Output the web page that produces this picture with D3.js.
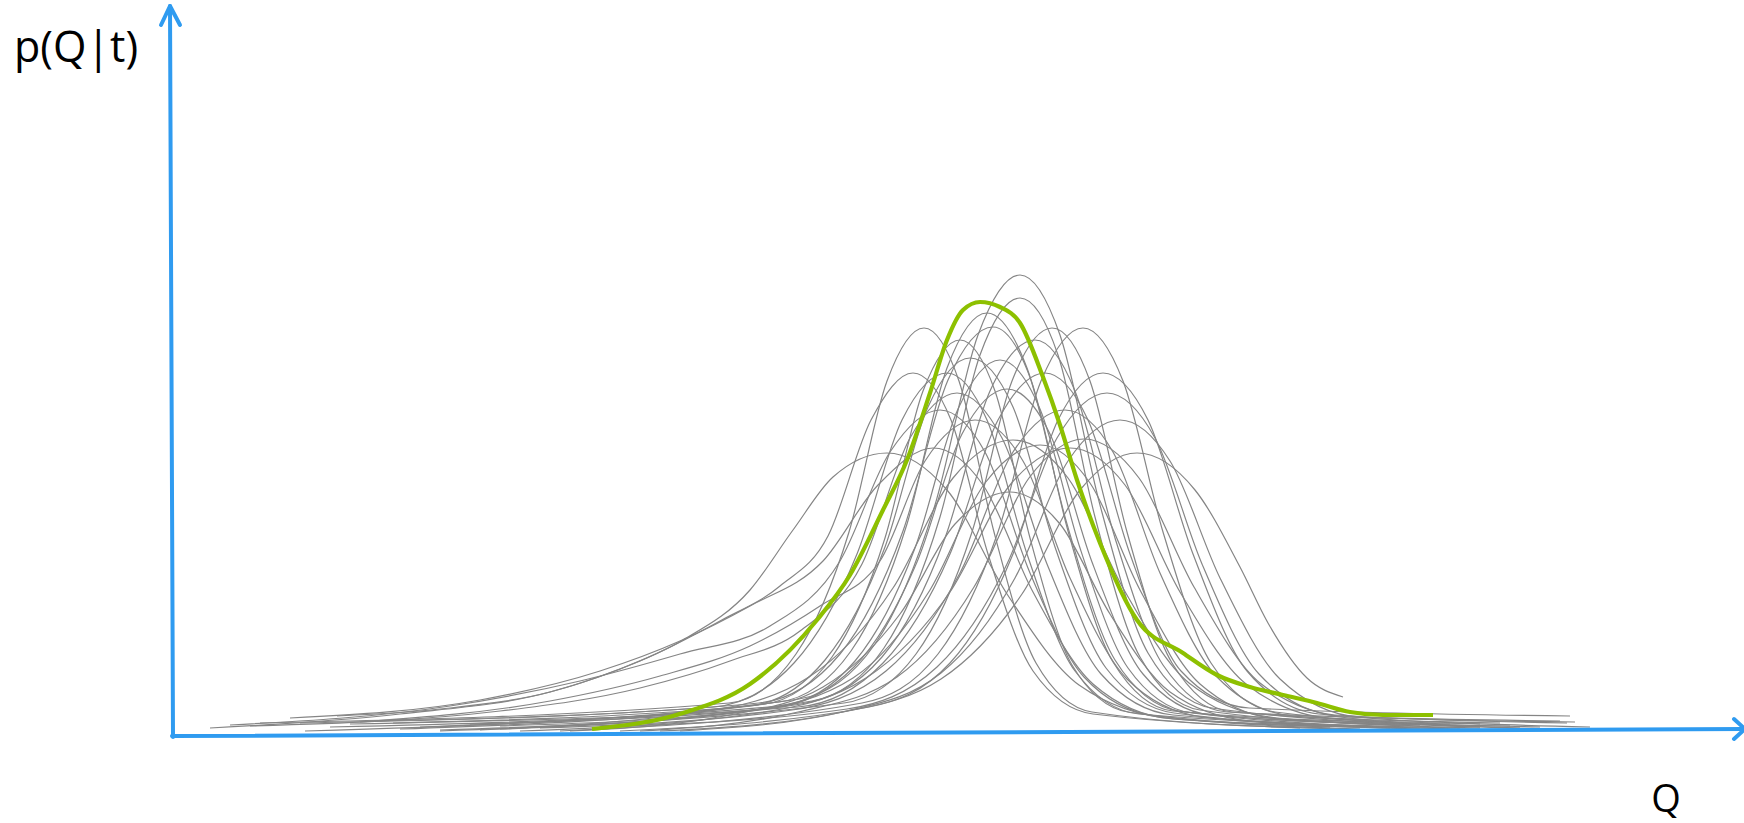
<!DOCTYPE html>
<html>
<head>
<meta charset="utf-8">
<script src="https://cdn.jsdelivr.net/npm/d3@7"></script>
<style>
  html, body { margin: 0; padding: 0; background: #ffffff; }
  svg { display: block; }
</style>
</head>
<body>
<script>
// Sample posterior densities p(Q|t): each curve is a list of [Q, p] points.
const sampleCurves = [
  [[42.0,0.9],[79.9,3.7],[87.5,9.2],[93.5,23.1],[97.8,40.1],[102.0,46.1],[106.0,40.1],[110.0,23.1],[114.8,8.3],[121.2,2.8],[148.0,0.9]],
  [[50.0,0.7],[81.2,3.5],[88.4,8.8],[94.0,21.9],[98.0,38.1],[102.0,43.8],[105.8,38.1],[109.5,21.9],[114.0,7.9],[120.0,2.6],[142.0,1.0]],
  [[26.0,1.3],[72.9,3.3],[79.6,8.2],[84.9,20.4],[88.7,35.5],[92.4,40.8],[95.9,35.5],[99.4,20.4],[103.6,7.3],[109.2,2.4],[130.0,0.8]],
  [[44.0,0.6],[84.4,3.3],[91.6,8.2],[97.2,20.4],[101.2,35.5],[105.2,40.8],[109.0,35.5],[112.7,20.4],[117.2,7.3],[123.2,2.4],[150.0,1.3]],
  [[56.0,0.5],[86.2,3.3],[93.8,8.2],[99.8,20.4],[104.1,35.5],[108.3,40.8],[112.3,35.5],[116.3,20.4],[121.1,7.3],[127.5,2.4],[152.0,0.8]],
  [[30.5,0.5],[77.9,3.4],[85.1,8.5],[90.7,21.2],[94.7,36.8],[98.7,42.3],[102.7,36.8],[106.7,21.2],[111.5,7.6],[117.9,2.5],[140.0,1.1]],
  [[38.0,1.5],[75.9,3.3],[84.0,8.2],[90.3,20.5],[94.8,35.6],[99.3,40.9],[103.1,35.6],[106.8,20.5],[111.3,7.4],[117.3,2.5],[145.0,1.2]],
  [[35.0,1.2],[74.9,3.0],[82.5,7.6],[88.5,18.9],[92.8,32.9],[97.0,37.8],[101.3,32.9],[105.5,18.9],[110.6,6.8],[117.4,2.3],[138.0,0.9]],
  [[21.0,0.8],[40.0,2.2],[55.0,4.4],[64.0,7.5],[72.0,11.5],[78.0,15.0],[82.8,20.0],[87.1,31.6],[91.3,36.3],[95.1,31.6],[98.8,18.2],[103.3,6.5],[109.3,2.2],[134.0,0.7]],
  [[30.0,1.3],[71.3,2.9],[79.4,7.3],[85.7,18.2],[90.2,31.6],[94.7,36.3],[98.7,31.6],[102.7,18.2],[107.5,6.5],[113.9,2.2],[146.0,0.8]],
  [[48.0,0.6],[80.1,3.2],[88.2,7.9],[94.5,19.8],[99.0,34.5],[103.5,39.6],[107.5,34.5],[111.5,19.8],[116.3,7.1],[122.7,2.4],[156.0,1.5]],
  [[39.3,1.3],[79.8,2.9],[88.3,7.3],[95.0,18.2],[99.8,31.6],[104.5,36.3],[108.8,31.6],[113.0,18.2],[118.1,6.5],[124.9,2.8],[157.0,2.0]],
  [[62.0,0.5],[86.9,2.9],[95.0,7.3],[101.3,18.2],[105.8,31.6],[110.3,36.3],[114.8,31.6],[119.3,18.2],[124.7,6.5],[131.9,2.2],[159.0,0.9]],
  [[60.0,0.9],[84.7,2.7],[93.7,6.9],[100.7,17.2],[105.7,29.8],[110.7,34.3],[115.5,29.8],[120.2,17.2],[125.9,6.2],[133.5,2.1],[156.7,1.3]],
  [[25.0,1.0],[50.0,2.5],[64.0,4.8],[73.0,7.5],[80.0,10.5],[86.2,17.2],[91.0,29.8],[95.7,34.3],[100.2,29.8],[104.7,17.2],[110.1,6.2],[117.3,2.1],[150.0,0.6]],
  [[33.7,2.0],[45.0,2.8],[55.0,4.4],[61.7,6.6],[68.3,9.6],[75.0,14.6],[79.3,20.6],[83.3,25.9],[88.7,28.3],[94.7,24.6],[100.7,14.2],[107.9,5.1],[117.5,1.7],[140.0,0.8]],
  [[44.0,0.5],[70.1,2.4],[80.9,5.9],[89.3,14.8],[95.3,25.8],[101.3,29.6],[106.8,25.8],[112.3,14.8],[118.9,5.3],[127.7,1.8],[148.0,0.8]],
  [[52.0,0.5],[75.8,2.3],[86.6,5.8],[95.0,14.4],[101.0,25.1],[107.0,28.8],[112.5,25.1],[118.0,14.4],[124.6,5.2],[133.4,1.7],[154.0,0.9]],
  [[66.0,0.5],[83.8,2.3],[94.1,5.7],[102.2,14.2],[108.0,24.6],[113.7,28.3],[119.5,24.6],[124.0,16.9],[126.8,11.3],[130.7,5.8],[134.3,3.9]],
  [[57.0,0.5],[72.4,2.0],[82.3,4.9],[90.0,12.2],[95.5,21.2],[101.0,24.4],[106.0,21.2],[111.0,12.2],[117.0,4.4],[125.0,1.5],[142.0,0.7]],
  [[29.0,1.8],[48.0,3.6],[60.0,6.5],[68.0,9.5],[75.0,13.0],[82.3,17.5],[87.8,25.1],[93.3,28.8],[98.3,25.1],[103.3,14.4],[109.3,5.2],[117.3,1.7],[136.0,1.0]],
  [[50.0,1.0],[75.4,2.6],[85.3,5.8],[93.0,14.6],[98.5,25.3],[104.0,29.1],[109.0,25.3],[114.0,14.6],[120.0,5.2],[128.0,1.7],[151.0,1.0]],
  [[64.0,0.5],[79.8,2.4],[89.7,5.9],[97.4,14.9],[102.9,25.8],[108.4,29.7],[113.9,25.8],[119.4,14.9],[126.0,5.3],[134.8,1.8],[155.0,0.7]],
  [[47.0,1.2],[77.3,2.8],[85.4,6.9],[91.7,17.4],[96.2,30.2],[100.7,34.7],[105.0,30.2],[109.2,17.4],[114.3,6.2],[121.1,2.1],[143.0,1.1]],
  [[40.0,0.7],[76.5,3.2],[83.2,7.9],[88.5,19.8],[92.3,34.5],[96.0,39.6],[99.5,34.5],[103.0,19.8],[107.2,7.1],[112.8,2.4],[133.0,0.9]],
  [[33.0,0.9],[77.9,3.0],[85.5,7.5],[91.5,18.8],[95.8,32.7],[100.0,37.6],[104.0,32.7],[108.0,18.8],[112.8,6.8],[119.2,2.3],[145.0,0.7]],
  [[54.0,0.8],[79.2,2.6],[88.6,6.5],[96.0,16.3],[101.3,28.4],[106.5,32.6],[111.3,28.4],[116.0,16.3],[121.7,5.9],[129.3,2.0],[148.0,1.2]],
  [[36.0,1.4],[55.0,3.5],[66.0,6.0],[75.0,9.0],[82.0,13.0],[88.0,17.5],[92.5,27.5],[97.5,31.6],[102.3,27.5],[107.0,15.8],[112.7,5.7],[120.3,1.9],[139.0,0.8]],
  [[68.0,0.5],[84.7,2.5],[94.1,6.3],[101.5,15.8],[106.8,27.5],[112.0,31.6],[117.0,27.5],[122.0,15.8],[128.0,5.7],[136.0,1.9],[157.5,1.4]],
  [[23.0,1.1],[45.0,3.0],[58.0,5.5],[68.0,8.2],[77.0,11.0],[84.0,17.5],[89.0,28.4],[94.0,32.6],[98.5,28.4],[103.0,16.3],[108.4,5.9],[115.6,2.0],[136.0,0.7]]
];

// Mean density, drawn on top of the samples.
const meanCurve = [
  [59.2,0.7],[68.3,2.3],[75.0,5.2],[81.7,11.6],[85.0,16.1],[88.3,22.6],[90.7,27.6],[93.0,34.3],[94.7,39.6],
  [96.3,42.6],[98.0,43.4],[100.0,42.9],[102.0,41.3],[104.3,35.9],[106.0,31.1],[107.7,25.6],[110.0,19.3],
  [113.7,11.6],[118.3,8.3],[121.7,6.1],[125.0,4.9],[128.3,4.1],[131.7,3.3],[135.0,2.4],[138.3,2.1],[143.3,2.1]
];

const axisLabels = { y: "p(Q|t)", x: "Q" };
const qDomain = [17.3, 174.4];
const pDomain = [0, 70];

const W = 1744, H = 823;
const originX = 173, originY = 736;

const svg = d3.select("body").append("svg")
  .attr("width", W).attr("height", H);

const x = d3.scaleLinear().domain(qDomain).range([originX, 1744]);
const y = d3.scaleLinear().domain(pDomain).range([originY, 36]);

const line = d3.line()
  .x(d => x(d[0]))
  .y(d => y(d[1]))
  .curve(d3.curveMonotoneX);

// Sample curves
svg.append("g")
  .selectAll("path")
  .data(sampleCurves)
  .join("path")
  .attr("d", line)
  .attr("fill", "none")
  .attr("stroke", "#858585")
  .attr("stroke-width", 1.2);

// Mean curve
svg.append("path")
  .datum(meanCurve)
  .attr("d", line)
  .attr("fill", "none")
  .attr("stroke", "#8dc000")
  .attr("stroke-width", 4.2)
  .attr("stroke-linecap", "butt");

// Axes: hand-drawn style arrows
const axisColor = "#2f9bf0";
const axes = svg.append("g")
  .attr("fill", "none")
  .attr("stroke", axisColor)
  .attr("stroke-width", 4)
  .attr("stroke-linecap", "round")
  .attr("stroke-linejoin", "round");

const yTop = [originX - 3, 6];
const xEnd = [W + 1, originY - 7];

// vertical axis
axes.append("path").attr("d", `M${originX},${originY + 1} L${yTop[0]},${yTop[1]}`);
axes.append("path").attr("d", `M${yTop[0] - 9},${yTop[1] + 19} L${yTop[0]},${yTop[1]} L${yTop[0] + 10},${yTop[1] + 19}`);

// horizontal axis
axes.append("path").attr("d", `M${originX - 1},${originY} L${xEnd[0]},${xEnd[1]}`);
axes.append("path").attr("d", `M${xEnd[0] - 11},${xEnd[1] - 10} L${xEnd[0]},${xEnd[1]} L${xEnd[0] - 11},${xEnd[1] + 10}`);

// Axis labels
svg.append("text")
  .attr("x", 14).attr("y", 62)
  .attr("font-family", "'Open Sans', sans-serif")
  .attr("font-size", 43)
  .attr("fill", "#000")
  .text(axisLabels.y);

svg.append("text")
  .attr("x", 1666).attr("y", 812)
  .attr("text-anchor", "middle")
  .attr("font-family", "'Open Sans', sans-serif")
  .attr("font-size", 38)
  .attr("fill", "#000")
  .text(axisLabels.x);
</script>
</body>
</html>
